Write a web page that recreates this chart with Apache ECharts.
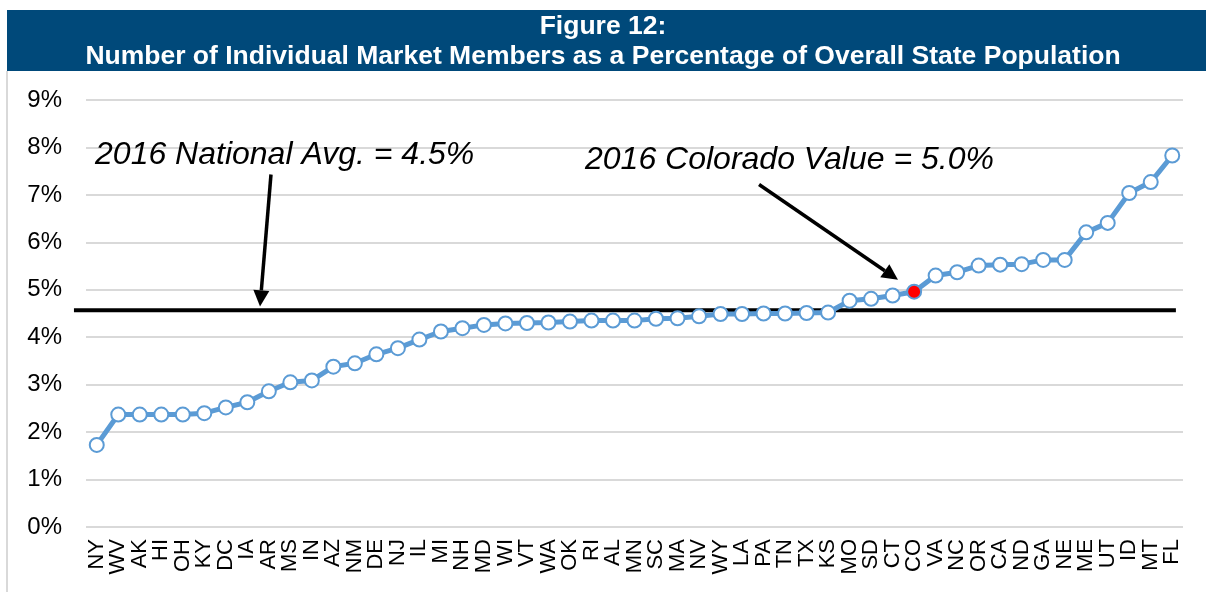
<!DOCTYPE html>
<html>
<head>
<meta charset="utf-8">
<script src="https://cdn.jsdelivr.net/npm/echarts@6/dist/echarts.min.js"></script>
<style>
  html, body { margin: 0; padding: 0; background: #fff; }
  #chart { width: 1206px; height: 592px; }
</style>
</head>
<body>
<div id="chart"></div>
<script>
// states, sorted by share of population in the individual market
const states = ['NY', 'WV', 'AK', 'HI', 'OH', 'KY', 'DC', 'IA', 'AR', 'MS', 'IN', 'AZ', 'NM', 'DE', 'NJ', 'IL', 'MI',
  'NH', 'MD', 'WI', 'VT', 'WA', 'OK', 'RI', 'AL', 'MN', 'SC', 'MA', 'NV', 'WY', 'LA', 'PA', 'TN', 'TX', 'KS',
  'MO', 'SD', 'CT', 'CO', 'VA', 'NC', 'OR', 'CA', 'ND', 'GA', 'NE', 'ME', 'UT', 'ID', 'MT', 'FL'];
const percents = [1.73, 2.37, 2.37, 2.37, 2.37, 2.40, 2.52, 2.63, 2.86, 3.05, 3.09, 3.38, 3.45, 3.64, 3.77, 3.95, 4.12,
  4.19, 4.26, 4.29, 4.30, 4.31, 4.33, 4.35, 4.35, 4.35, 4.39, 4.40, 4.44, 4.49, 4.49, 4.50, 4.50, 4.51, 4.52,
  4.77, 4.81, 4.88, 4.96, 5.30, 5.37, 5.51, 5.53, 5.54, 5.63, 5.63, 6.21, 6.41, 7.04, 7.27, 7.83];
const yTicks = [0, 9, 1]; // min, max, step
const highlightState = 'CO';
const nationalAvg = 4.57;
const avgLabel = '2016 National Avg. = 4.5%';
const coLabel = '2016 Colorado Value = 5.0%';

const blue = '#5B9BD5';
const font = 'Liberation Sans, Arial, sans-serif';

const chart = echarts.init(document.getElementById('chart'));

chart.setOption({
  animation: false,
  title: {
    text: 'Figure 12:\nNumber of Individual Market Members as a Percentage of Overall State Population',
    left: 'center',
    top: 12,
    padding: 0,
    textStyle: { color: '#fff', fontSize: 26.5, fontWeight: 'bold', fontFamily: font, lineHeight: 30 }
  },
  grid: { left: 86, right: 23, top: 100, bottom: 65 },
  xAxis: [{
    type: 'category',
    data: states,
    boundaryGap: true,
    axisLine: { show: false },
    axisTick: { show: false },
    axisLabel: { rotate: 90, interval: 0, margin: 12, fontSize: 22, color: '#000', fontFamily: font }
  }, {
    // helper axis for placing the annotations
    type: 'value', min: -0.5, max: 50.5, show: false
  }],
  yAxis: {
    type: 'value',
    min: yTicks[0], max: yTicks[1], interval: yTicks[2],
    axisLine: { show: false },
    axisTick: { show: false },
    axisLabel: { formatter: '{value}%', fontSize: 24, color: '#000', fontFamily: font, margin: 24 },
    splitLine: { lineStyle: { color: '#d9d9d9', width: 2 } }
  },
  series: [{
    type: 'line',
    data: percents.map((v, i) => states[i] === highlightState
      ? { value: v, itemStyle: { color: '#ff0000' } }
      : v),
    symbol: 'circle',
    symbolSize: 14,
    lineStyle: { color: blue, width: 5 },
    itemStyle: { color: '#fff', borderColor: blue, borderWidth: 2 },
    z: 3
  }]
});

// annotation helpers
const px = (x, y) => chart.convertToPixel({ xAxisIndex: 1, yAxisIndex: 0 }, [x, y]);

function arrow(from, to) {
  const a = px(from[0], from[1]);
  const b = px(to[0], to[1]);
  const dx = b[0] - a[0], dy = b[1] - a[1];
  const len = Math.sqrt(dx * dx + dy * dy);
  const ux = dx / len, uy = dy / len;
  const headLen = 16, headW = 8;
  const base = [b[0] - ux * headLen, b[1] - uy * headLen];
  return [{
    type: 'line',
    shape: { x1: a[0], y1: a[1], x2: base[0], y2: base[1] },
    style: { stroke: '#000', lineWidth: 3.5 },
    z: 10
  }, {
    type: 'polygon',
    shape: { points: [b, [base[0] - uy * headW, base[1] + ux * headW], [base[0] + uy * headW, base[1] - ux * headW]] },
    style: { fill: '#000' },
    z: 10
  }];
}

const avgL = px(-1.06, nationalAvg);
const avgR = px(50.17, nationalAvg);
const t1 = px(-0.08, 7.83);
const t2 = px(22.7, 7.73);

chart.setOption({
  graphic: [
    { type: 'rect', shape: { x: 7, y: 10, width: 1199, height: 61 }, style: { fill: '#00497A' }, z: -10 },
    { type: 'line', shape: { x1: 7, y1: 71, x2: 7, y2: 592 }, style: { stroke: '#d9d9d9', lineWidth: 2 }, z: -10 },
    { type: 'line', shape: { x1: avgL[0], y1: avgL[1], x2: avgR[0], y2: avgR[1] }, style: { stroke: '#000', lineWidth: 4 }, z: 2 },
    { type: 'text', x: t1[0], y: t1[1], style: { text: avgLabel, fill: '#000', fontSize: 32, fontStyle: 'italic', fontFamily: font, verticalAlign: 'middle' }, z: 10 },
    { type: 'text', x: t2[0], y: t2[1], style: { text: coLabel, fill: '#000', fontSize: 32, fontStyle: 'italic', fontFamily: font, verticalAlign: 'middle' }, z: 10 }
  ].concat(arrow([8.1, 7.43], [7.59, 4.65]), arrow([30.79, 7.22], [37.25, 5.21]))
});
</script>
</body>
</html>
